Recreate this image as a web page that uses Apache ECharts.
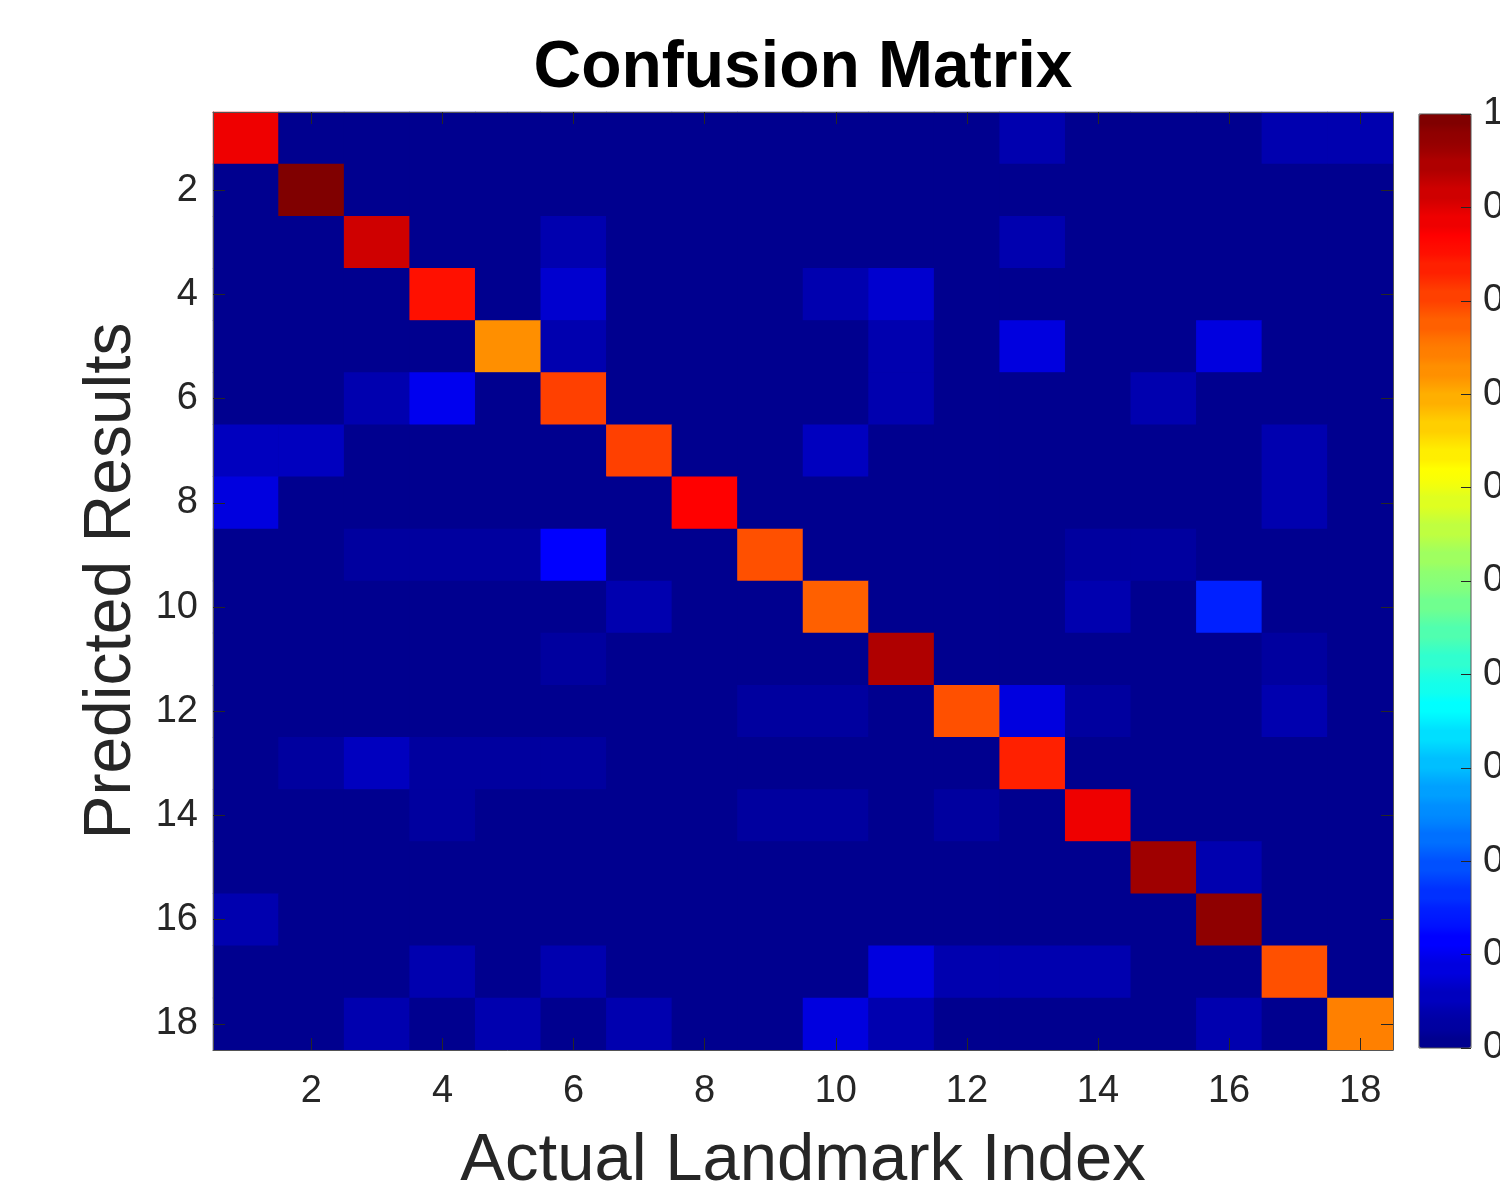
<!DOCTYPE html>
<html>
<head>
<meta charset="utf-8">
<title>Confusion Matrix</title>
<script src="https://cdn.jsdelivr.net/npm/echarts@6/dist/echarts.min.js"></script>
<style>
  html, body { margin: 0; padding: 0; background: #fff; }
  #chart { width: 1500px; height: 1191px; }
</style>
</head>
<body>
<div id="chart"></div>
<script>
// landmark indices 1..18 (actual = columns, predicted = rows)
const landmarks = ['1', '2', '3', '4', '5', '6', '7', '8', '9', '10', '11', '12', '13', '14', '15', '16', '17', '18'];

// correct predictions
const diagonal = [0.883, 0.99, 0.914, 0.852, 0.727, 0.805, 0.805, 0.867, 0.789, 0.773, 0.945, 0.789, 0.836, 0.883, 0.961, 0.977, 0.789, 0.742];

// off-diagonal confusions: [predicted row, actual column, value]
const confusions = [
    [1, 13, 0.039], [1, 17, 0.039], [1, 18, 0.039],
    [3, 6, 0.039], [3, 13, 0.039],
    [4, 6, 0.07], [4, 10, 0.039], [4, 11, 0.07],
    [5, 6, 0.039], [5, 11, 0.039], [5, 13, 0.086], [5, 16, 0.086],
    [6, 3, 0.039], [6, 4, 0.102], [6, 11, 0.039], [6, 15, 0.039],
    [7, 1, 0.055], [7, 2, 0.055], [7, 10, 0.055], [7, 17, 0.039],
    [8, 1, 0.09], [8, 17, 0.039],
    [9, 3, 0.025], [9, 4, 0.025], [9, 5, 0.025], [9, 6, 0.11], [9, 14, 0.025], [9, 15, 0.025],
    [10, 7, 0.039], [10, 14, 0.039], [10, 16, 0.148],
    [11, 6, 0.023], [11, 17, 0.023],
    [12, 9, 0.025], [12, 10, 0.025], [12, 13, 0.08], [12, 14, 0.025], [12, 17, 0.039],
    [13, 2, 0.02], [13, 3, 0.055], [13, 4, 0.025], [13, 5, 0.025], [13, 6, 0.025],
    [14, 4, 0.025], [14, 9, 0.025], [14, 10, 0.025], [14, 12, 0.02],
    [15, 16, 0.039],
    [16, 1, 0.039],
    [17, 4, 0.035], [17, 6, 0.035], [17, 11, 0.08], [17, 12, 0.039], [17, 13, 0.039], [17, 14, 0.039],
    [18, 3, 0.039], [18, 5, 0.039], [18, 7, 0.039], [18, 10, 0.08], [18, 11, 0.039], [18, 16, 0.039]
];

// colour bar ticks
const barTicks = [0, 0.1, 0.2, 0.3, 0.4, 0.5, 0.6, 0.7, 0.8, 0.9, 1];

// MATLAB-style jet colormap, each level repeated so the scale stays stepped
function jetColors(m, repeat) {
    const n = Math.ceil(m / 4);
    const u = [];
    for (let i = 1; i <= n; i++) u.push(i / n);
    for (let i = 1; i < n; i++) u.push(1);
    for (let i = n; i >= 1; i--) u.push(i / n);
    const g0 = Math.ceil(n / 2) - (m % 4 === 1 ? 1 : 0);
    const rgb = [];
    for (let k = 0; k < m; k++) rgb.push([0, 0, 0]);
    u.forEach(function (val, j) {
        const g = g0 + j + 1;
        const r = g + n;
        const b = g - n;
        if (g >= 1 && g <= m) rgb[g - 1][1] = val;
        if (r >= 1 && r <= m) rgb[r - 1][0] = val;
        if (b >= 1 && b <= m) rgb[b - 1][2] = val;
    });
    const out = [];
    rgb.forEach(function (c) {
        const s = 'rgb(' + c.map(v => Math.round(v * 255)).join(',') + ')';
        for (let i = 0; i < repeat; i++) out.push(s);
    });
    return out;
}

const jet = jetColors(64, 8);

// build the heatmap table [actual, predicted, value]
const cells = {};
landmarks.forEach(function (_, r) {
    landmarks.forEach(function (__, c) {
        cells[r + '_' + c] = r === c ? diagonal[r] : 0;
    });
});
confusions.forEach(function (item) {
    cells[(item[0] - 1) + '_' + (item[1] - 1)] = item[2];
});
const heatData = [];
landmarks.forEach(function (_, r) {
    landmarks.forEach(function (__, c) {
        heatData.push([c, r, cells[r + '_' + c]]);
    });
});

const textColor = '#262626';
const boxColor = '#555555';
const fontFamily = '"Liberation Sans", Arial, Helvetica, sans-serif';
const everyOther = function (idx) { return idx % 2 === 1; };

const chart = echarts.init(document.getElementById('chart'), null, { renderer: 'canvas' });

chart.setOption({
    animation: false,
    backgroundColor: '#ffffff',
    textStyle: { fontFamily: fontFamily },
    title: {
        text: 'Confusion Matrix',
        left: 803,
        top: 36,
        padding: 0,
        textAlign: 'center',
        textStyle: { fontSize: 66, fontWeight: 'bold', color: '#000000', fontFamily: fontFamily }
    },
    grid: [
        {
            left: 213, top: 112, width: 1180, height: 938, outerBoundsMode: 'none',
            show: true, backgroundColor: jet[0], borderWidth: 0
        },
        {
            left: 1419, top: 114, width: 52, height: 934, outerBoundsMode: 'none',
            show: true, z: 10, backgroundColor: 'transparent', borderColor: boxColor, borderWidth: 1
        }
    ],
    xAxis: [
        {
            type: 'category',
            data: landmarks,
            gridIndex: 0,
            position: 'bottom',
            name: 'Actual Landmark Index',
            nameLocation: 'middle',
            nameGap: 78,
            nameTextStyle: { fontSize: 67, color: textColor, fontFamily: fontFamily },
            axisLine: { show: true, lineStyle: { color: boxColor, width: 1 } },
            axisTick: { show: true, inside: true, length: 12, alignWithLabel: true, interval: everyOther, lineStyle: { color: textColor } },
            axisLabel: { interval: everyOther, margin: 23, fontSize: 38, color: textColor, fontFamily: fontFamily },
            splitLine: { show: false },
            splitArea: { show: false },
            z: 5
        },
        {
            type: 'category',
            data: landmarks,
            gridIndex: 0,
            position: 'top',
            axisLine: { show: true, lineStyle: { color: boxColor, width: 1 } },
            axisTick: { show: true, inside: true, length: 12, alignWithLabel: true, interval: everyOther, lineStyle: { color: textColor } },
            axisLabel: { show: false },
            splitLine: { show: false },
            z: 5
        },
        { type: 'value', gridIndex: 1, show: false, min: 0, max: 1 }
    ],
    yAxis: [
        {
            type: 'category',
            data: landmarks,
            gridIndex: 0,
            inverse: true,
            position: 'left',
            name: 'Predicted Results',
            nameLocation: 'middle',
            nameGap: 68,
            nameRotate: 90,
            nameTextStyle: { fontSize: 66, color: textColor, fontFamily: fontFamily },
            axisLine: { show: true, lineStyle: { color: boxColor, width: 1 } },
            axisTick: { show: true, inside: true, length: 12, alignWithLabel: true, interval: everyOther, lineStyle: { color: textColor } },
            axisLabel: { interval: everyOther, margin: 15, fontSize: 38, color: textColor, fontFamily: fontFamily },
            splitLine: { show: false },
            splitArea: { show: false },
            z: 5
        },
        {
            type: 'category',
            data: landmarks,
            gridIndex: 0,
            inverse: true,
            position: 'right',
            axisLine: { show: true, lineStyle: { color: boxColor, width: 1 } },
            axisTick: { show: true, inside: true, length: 12, alignWithLabel: true, interval: everyOther, lineStyle: { color: textColor } },
            axisLabel: { show: false },
            splitLine: { show: false },
            z: 5
        },
        {
            type: 'value',
            gridIndex: 1,
            position: 'right',
            min: barTicks[0],
            max: barTicks[barTicks.length - 1],
            interval: barTicks[1] - barTicks[0],
            axisLine: { show: false, onZero: false },
            axisTick: { show: true, inside: true, length: 10, lineStyle: { color: textColor, width: 1 } },
            axisLabel: { margin: 12, fontSize: 38, color: textColor, fontFamily: fontFamily },
            splitLine: { show: false },
            z: 20
        }
    ],
    visualMap: {
        type: 'continuous',
        min: 0,
        max: 1,
        seriesIndex: 0,
        dimension: 2,
        calculable: false,
        hoverLink: false,
        orient: 'vertical',
        left: 1419,
        top: 114,
        padding: 0,
        itemWidth: 52,
        itemHeight: 934,
        text: null,
        showLabel: false,
        z: 1,
        inRange: { color: jet }
    },
    series: [{
        name: 'Confusion',
        type: 'heatmap',
        xAxisIndex: 0,
        yAxisIndex: 0,
        data: heatData,
        itemStyle: { borderWidth: 0 },
        emphasis: { disabled: true },
        label: { show: false }
    }]
});
</script>
</body>
</html>
